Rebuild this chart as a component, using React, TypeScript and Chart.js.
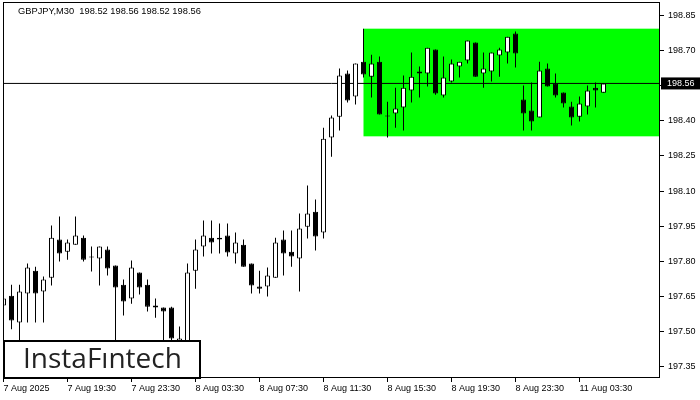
import React, { useEffect, useRef } from 'react';
import { Chart, registerables } from 'chart.js';

Chart.register(...registerables);

const titleText = 'GBPJPY,M30  198.52 198.56 198.52 198.56';
const brandText = 'InstaFıntech';

const xTickIndex = [0, 8, 16, 24, 32, 40, 48, 56, 64, 72];
const xTickLabels = [
  '7 Aug 2025', '7 Aug 19:30', '7 Aug 23:30', '8 Aug 03:30', '8 Aug 07:30',
  '8 Aug 11:30', '8 Aug 15:30', '8 Aug 19:30', '8 Aug 23:30', '11 Aug 03:30',
];
const yTickValues = [197.35, 197.5, 197.65, 197.8, 197.95, 198.1, 198.25, 198.4, 198.55, 198.7, 198.85];

const opens = [
  197.611, 197.653, 197.538, 197.662, 197.760, 197.671, 197.730, 197.893, 197.841, 197.871,
  197.901, 197.820, 197.812, 197.850, 197.782, 197.700, 197.641, 197.752, 197.700, 197.602,
  197.602, 197.602, 197.430, 197.450, 197.760, 197.863, 197.901, 197.893, 197.910, 197.833,
  197.871, 197.790, 197.692, 197.692, 197.730, 197.893, 197.841, 197.812, 197.948, 198.012,
  197.923, 198.329, 198.418, 198.602, 198.504, 198.653, 198.589, 198.653, 198.423, 198.431,
  198.457, 198.530, 198.602, 198.602, 198.705, 198.508, 198.568, 198.632, 198.658, 198.735,
  198.602, 198.611, 198.679, 198.692, 198.773, 198.491, 198.444, 198.414, 198.624, 198.559,
  198.521, 198.461, 198.418, 198.461, 198.542, 198.520,
];
const highs = [
  197.653, 197.700, 197.700, 197.790, 197.777, 197.735, 197.953, 197.991, 197.893, 197.991,
  197.910, 197.863, 197.863, 197.863, 197.782, 197.722, 197.803, 197.752, 197.722, 197.641,
  197.602, 197.606, 197.521, 197.790, 197.893, 197.974, 197.974, 197.961, 197.961, 197.923,
  197.893, 197.790, 197.760, 197.773, 197.901, 197.931, 197.931, 198.004, 198.124, 198.064,
  198.371, 198.423, 198.624, 198.615, 198.645, 198.794, 198.683, 198.675, 198.482, 198.542,
  198.594, 198.692, 198.632, 198.713, 198.705, 198.675, 198.662, 198.653, 198.743, 198.735,
  198.692, 198.692, 198.713, 198.760, 198.782, 198.551, 198.564, 198.653, 198.645, 198.602,
  198.521, 198.482, 198.504, 198.551, 198.564, 198.560,
];
const lows = [
  197.602, 197.509, 197.440, 197.538, 197.538, 197.538, 197.696, 197.799, 197.807, 197.871,
  197.799, 197.756, 197.696, 197.739, 197.430, 197.568, 197.619, 197.658, 197.585, 197.559,
  197.420, 197.430, 197.400, 197.420, 197.683, 197.820, 197.833, 197.833, 197.820, 197.790,
  197.777, 197.662, 197.662, 197.649, 197.730, 197.739, 197.777, 197.671, 197.897, 197.846,
  197.897, 198.247, 198.359, 198.478, 198.470, 198.585, 198.500, 198.427, 198.329, 198.371,
  198.359, 198.478, 198.500, 198.547, 198.512, 198.500, 198.564, 198.585, 198.645, 198.589,
  198.542, 198.568, 198.589, 198.645, 198.628, 198.359, 198.359, 198.414, 198.547, 198.500,
  198.457, 198.380, 198.397, 198.427, 198.457, 198.520,
];
const closes = [
  197.641, 197.547, 197.671, 197.773, 197.662, 197.722, 197.901, 197.833, 197.880, 197.910,
  197.807, 197.816, 197.863, 197.769, 197.688, 197.628, 197.773, 197.688, 197.606, 197.611,
  197.585, 197.470, 197.470, 197.752, 197.850, 197.910, 197.880, 197.901, 197.837, 197.880,
  197.777, 197.696, 197.683, 197.739, 197.880, 197.833, 197.820, 197.940, 198.004, 197.906,
  198.324, 198.414, 198.594, 198.487, 198.645, 198.598, 198.645, 198.427, 198.419, 198.453,
  198.542, 198.589, 198.611, 198.713, 198.517, 198.585, 198.645, 198.653, 198.743, 198.589,
  198.624, 198.692, 198.705, 198.760, 198.688, 198.431, 198.397, 198.615, 198.547, 198.508,
  198.474, 198.414, 198.474, 198.530, 198.530, 198.560,
];

const bidPrice = 198.56;
const zoneFromIndex = 45;
const zoneToIndex = 90;
const zoneHigh = 198.794;
const zoneLow = 198.334;

const X_MIN = -0.0625;
const X_MAX = 82.0625;
const Y_MAX = 198.908;
const Y_MIN = 197.3012;

const FONT = '"Liberation Sans", Arial, sans-serif';

const overlayPlugin = {
  id: 'mtOverlay',
  beforeDatasetsDraw(chart: any) {
    const { ctx, chartArea: a, scales } = chart;
    const xs = scales.x;
    const ys = scales.y;
    ctx.save();
    ctx.beginPath();
    ctx.rect(a.left, a.top, a.right - a.left, a.bottom - a.top);
    ctx.clip();
    const x0 = xs.getPixelForValue(zoneFromIndex);
    const x1 = xs.getPixelForValue(zoneToIndex);
    const y0 = ys.getPixelForValue(zoneHigh);
    const y1 = ys.getPixelForValue(zoneLow);
    ctx.fillStyle = '#00ff00';
    ctx.fillRect(x0, y0, x1 - x0, y1 - y0);
    ctx.restore();
  },
  afterDraw(chart: any) {
    const { ctx, chartArea: a, scales } = chart;
    const ys = scales.y;
    ctx.save();
    // frame
    ctx.strokeStyle = '#000';
    ctx.lineWidth = 1;
    ctx.strokeRect(a.left + 0.5, a.top + 0.5, a.right - a.left - 1, a.bottom - a.top - 1);

    // title
    ctx.fillStyle = '#000';
    ctx.font = `9.3px ${FONT}`;
    ctx.textBaseline = 'middle';
    ctx.textAlign = 'left';
    ctx.fillText(titleText, a.left + 15, a.top + 9);

    // bid price label
    const py = ys.getPixelForValue(bidPrice);
    ctx.fillStyle = '#000';
    ctx.fillRect(a.right + 1, py - 6, chart.width - a.right - 1, 12);
    ctx.fillStyle = '#fff';
    ctx.font = `9px ${FONT}`;
    ctx.fillText(bidPrice.toFixed(2), a.right + 7, py + 0.5);

    // brand box
    const bx = a.left;
    const bw = 198;
    const bh = 38;
    const by = a.bottom - bh;
    ctx.fillStyle = '#fff';
    ctx.fillRect(bx, by, bw, bh);
    ctx.strokeStyle = '#000';
    ctx.lineWidth = 2;
    ctx.strokeRect(bx + 1, by + 1, bw - 2, bh - 1);
    ctx.fillStyle = '#222';
    ctx.font = `500 28px "Open Sans", sans-serif`;
    ctx.textBaseline = 'alphabetic';
    ctx.fillText(brandText, bx + 20, by + 28);
    ctx.restore();
  },
};

export default function App() {
  const canvasRef = useRef<HTMLCanvasElement | null>(null);

  useEffect(() => {
    document.body.style.margin = '0';
    const canvas = canvasRef.current;
    if (!canvas) return;

    const wickData = highs.map((h, i) => ({ x: i, y: [lows[i], h] }));
    const bodyData = opens.map((o, i) => ({ x: i, y: [o, closes[i]] }));
    const bodyColors = opens.map((o, i) => (closes[i] >= o ? '#ffffff' : '#000000'));

    const tickFont = { family: FONT, size: 9 };

    const chart = new Chart(canvas, {
      type: 'bar',
      data: {
        datasets: [
          {
            type: 'line',
            data: [
              { x: X_MIN, y: bidPrice },
              { x: X_MAX, y: bidPrice },
            ],
            borderColor: '#000',
            borderWidth: 1,
            pointRadius: 0,
            order: 3,
            clip: 0,
          } as any,
          {
            type: 'bar',
            data: wickData,
            backgroundColor: '#000',
            borderWidth: 0,
            barThickness: 1,
            grouped: false,
            inflateAmount: 0,
            order: 2,
            clip: 0,
          } as any,
          {
            type: 'bar',
            data: bodyData,
            backgroundColor: bodyColors,
            borderColor: '#000',
            borderWidth: 1,
            borderSkipped: false,
            barThickness: 5,
            grouped: false,
            inflateAmount: 0,
            order: 1,
            clip: 0,
          } as any,
        ],
      },
      options: {
        responsive: false,
        animation: false,
        events: [],
        layout: { padding: { left: 3, top: 2, right: 0, bottom: 0 } },
        plugins: {
          legend: { display: false },
          tooltip: { enabled: false },
          title: { display: false },
        },
        scales: {
          x: {
            type: 'linear',
            min: X_MIN,
            max: X_MAX,
            offset: false,
            grid: {
              offset: false,
              drawOnChartArea: false,
              drawTicks: true,
              tickLength: 4,
              tickColor: '#000',
            },
            border: { display: false },
            afterBuildTicks: (s: any) => {
              s.ticks = xTickIndex.map((v) => ({ value: v }));
            },
            afterFit: (s: any) => {
              s.height = 22;
              s.paddingLeft = 0;
              s.paddingRight = 0;
            },
            ticks: {
              autoSkip: false,
              maxRotation: 0,
              minRotation: 0,
              align: 'start',
              padding: 1,
              color: '#000',
              font: tickFont,
              callback: (_v: any, i: number) => xTickLabels[i],
            },
          },
          y: {
            type: 'linear',
            position: 'right',
            min: Y_MIN,
            max: Y_MAX,
            grid: {
              drawOnChartArea: false,
              drawTicks: true,
              tickLength: 4,
              tickColor: '#000',
            },
            border: { display: false },
            afterBuildTicks: (s: any) => {
              s.ticks = yTickValues.map((v) => ({ value: v }));
            },
            afterFit: (s: any) => {
              s.width = 40;
              s.paddingTop = 0;
              s.paddingBottom = 0;
            },
            ticks: {
              padding: 4,
              color: '#000',
              font: tickFont,
              callback: (v: any) => Number(v).toFixed(2),
            },
          },
        },
      } as any,
      plugins: [overlayPlugin],
    });

    return () => {
      chart.destroy();
    };
  }, []);

  return (
    <div style={{ position: 'relative', width: 700, height: 400 }}>
      <canvas ref={canvasRef} width={700} height={400} style={{ display: 'block' }} />
    </div>
  );
}
